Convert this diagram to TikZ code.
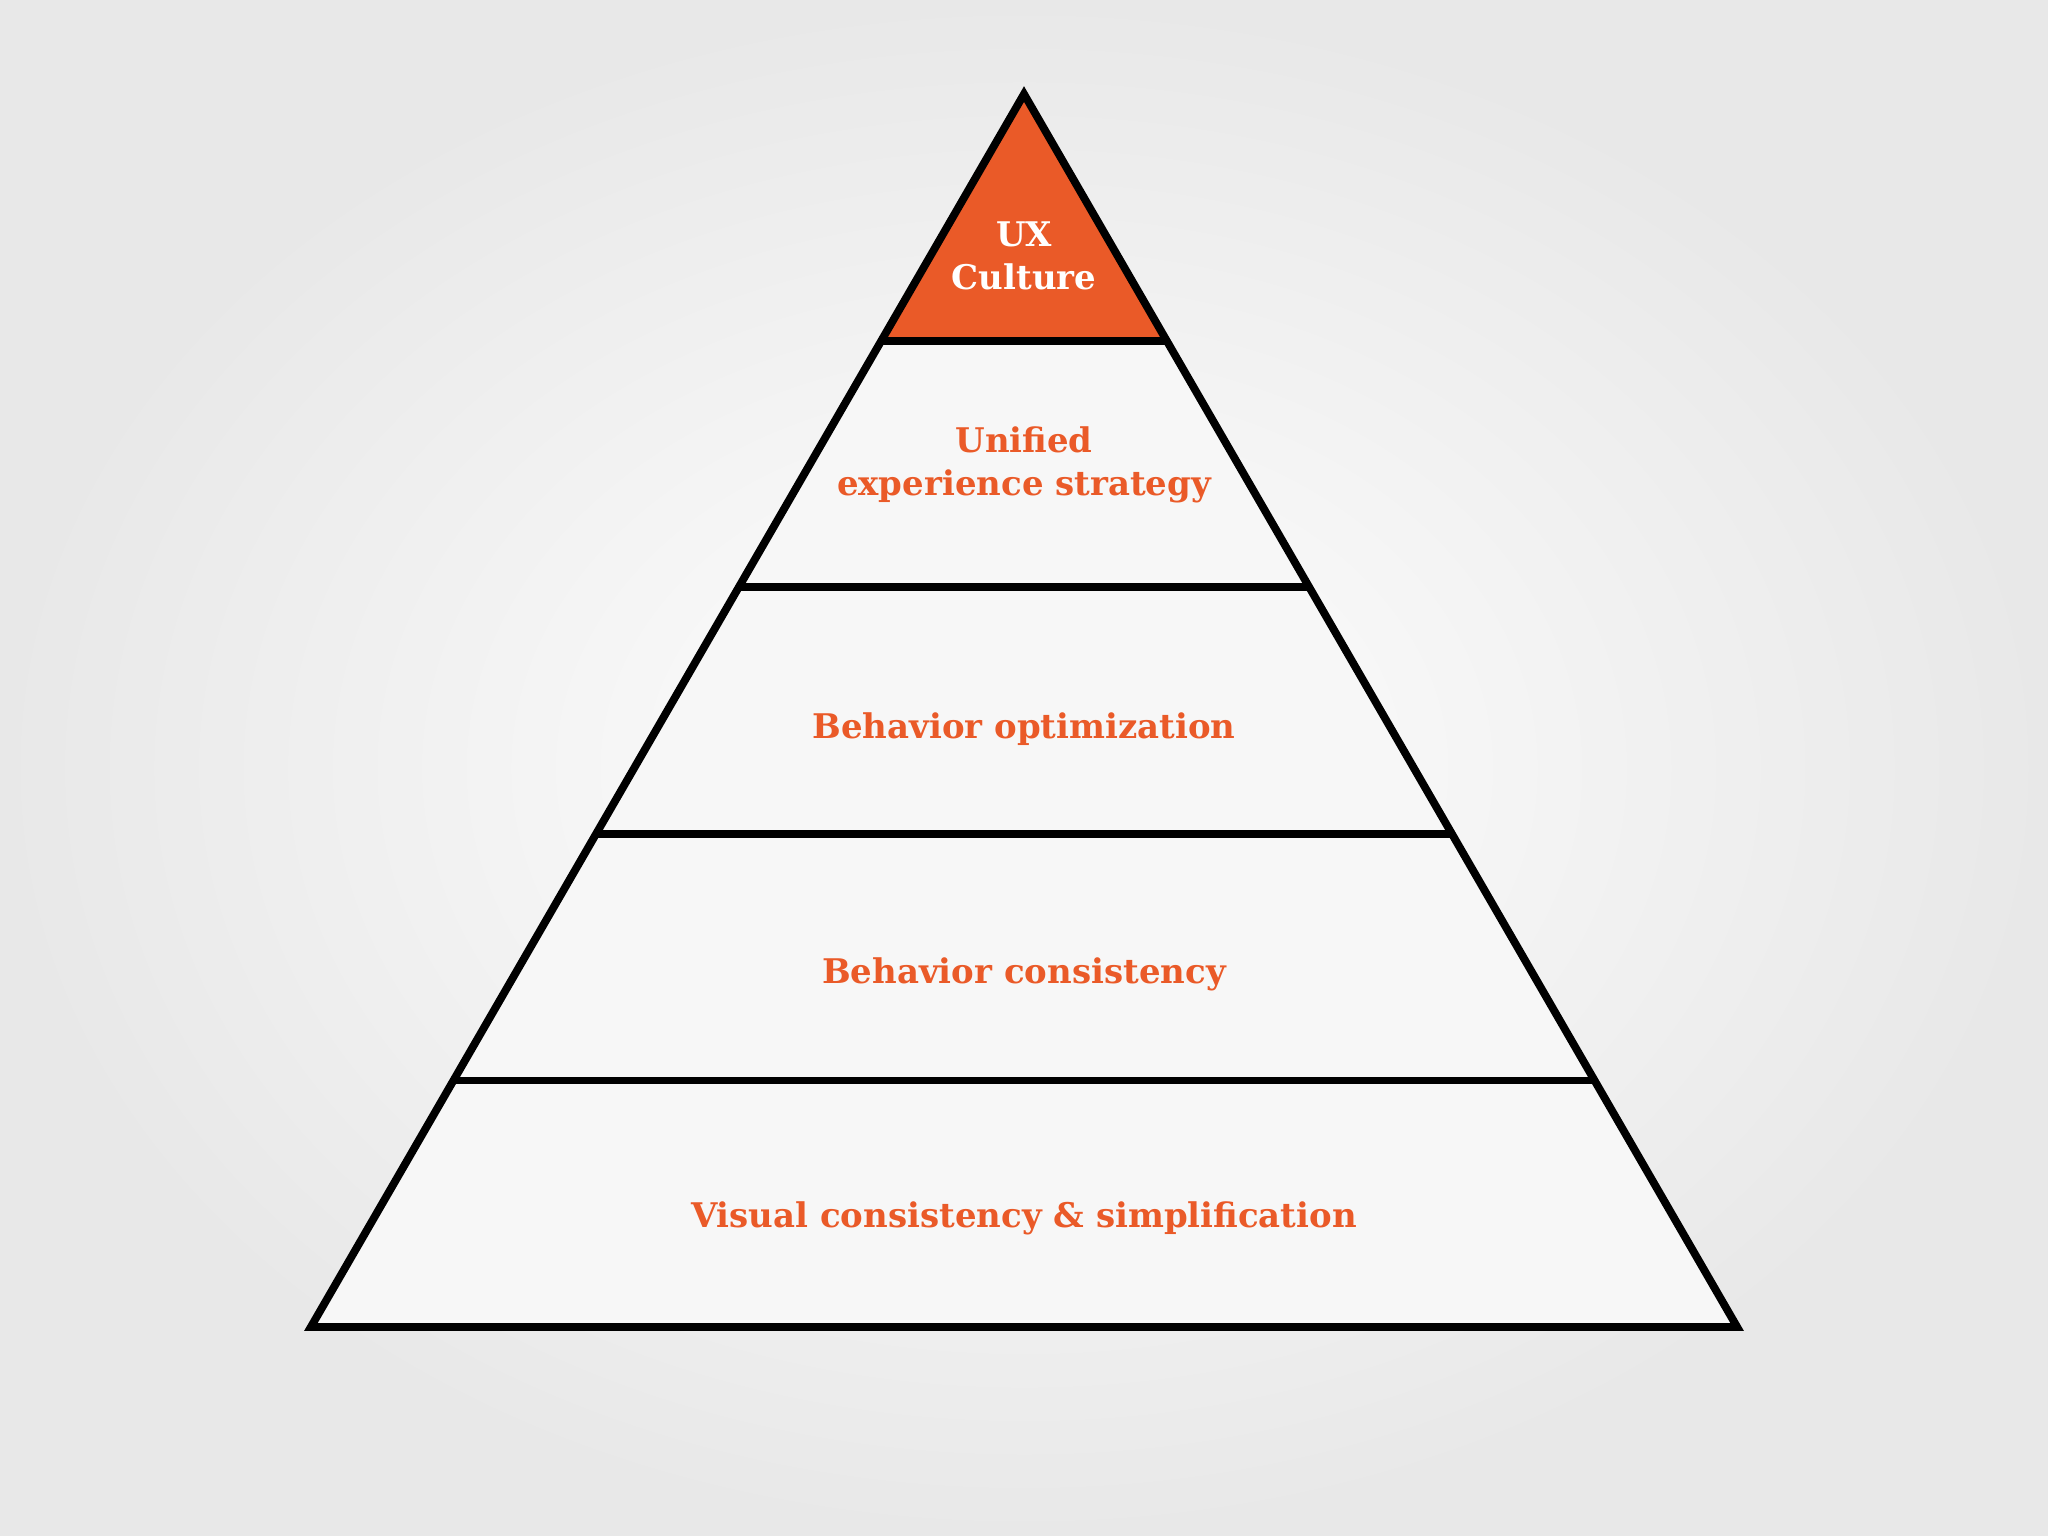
\documentclass[tikz,border=0pt]{standalone}
\usepackage{fontspec}
\setmainfont{DejaVu Serif}
\usetikzlibrary{calc}
\definecolor{ux}{HTML}{EA5A28}
\tikzset{lbl/.style={text=ux,font=\bfseries\fontsize{13}{16.5}\selectfont,align=center},
edge/.style={line width=3pt,line join=miter}}
\begin{document}
\begin{tikzpicture}[x=0.5pt,y=-0.5pt]
\useasboundingbox (0,0) rectangle (1568,1176);
\shade[inner color=white,outer color=black!9] (0,0) rectangle (1568,1176);
\coordinate (A) at (784,72);
\coordinate (BL) at (238,1016);
\coordinate (BR) at (1330,1016);
\foreach \i/\t in {1/0.2,2/0.4,3/0.6,4/0.8}{
  \coordinate (L\i) at ($(A)!\t!(BL)$);
  \coordinate (R\i) at ($(A)!\t!(BR)$);
}
\fill[white!97!black] (A) -- (BL) -- (BR) -- cycle;
\fill[ux] (A) -- (L1) -- (R1) -- cycle;
\foreach \i in {1,2,3,4}{\draw[edge] (L\i) -- (R\i);}
\draw[edge] (A) -- (BL) -- (BR) -- cycle;
\node[lbl,text=white] (n0) at (784,196) {UX\\Culture};
\node[lbl] (n1) at (784,356) {Unified\\experience strategy};
\node[lbl] (n2) at (784,558) {Behavior optimization};
\node[lbl] (n3) at (784,746) {Behavior consistency};
\node[lbl] (n4) at (784,933) {Visual consistency \& simplification};
\end{tikzpicture}
\end{document}
